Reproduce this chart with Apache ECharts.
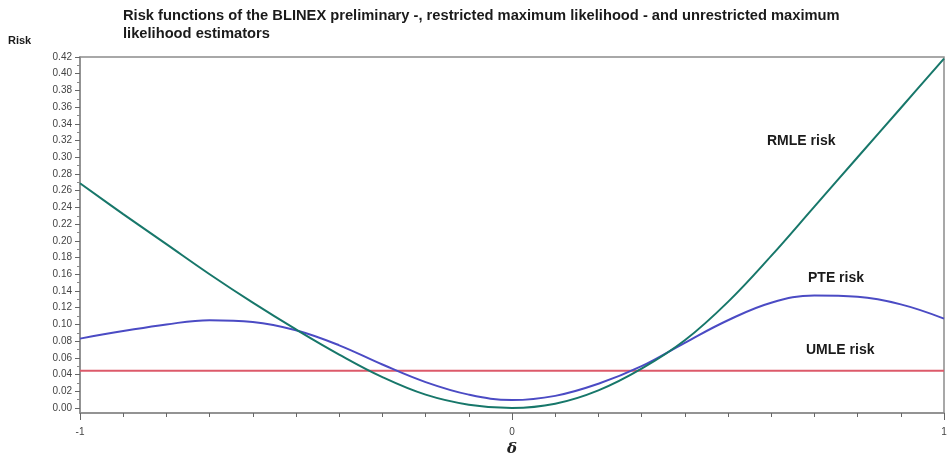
<!DOCTYPE html>
<html>
<head>
<meta charset="utf-8">
<script src="https://cdn.jsdelivr.net/npm/echarts@6/dist/echarts.min.js"></script>
<style>
  html, body { margin: 0; padding: 0; background: #fff; }
  #main { width: 948px; height: 455px; }
</style>
</head>
<body>
<div id="main"></div>
<script>
// 数据：delta 取值与三条风险曲线
var deltas = [-1, -0.9, -0.8, -0.7, -0.6, -0.5, -0.4, -0.3, -0.2, -0.1, 0,
  0.1, 0.2, 0.3, 0.4, 0.5, 0.6, 0.7, 0.8, 0.9, 1];
var rmleRisk = [0.269, 0.232, 0.196, 0.160, 0.126, 0.094, 0.064, 0.037, 0.016, 0.004, 0.0,
  0.005, 0.021, 0.047, 0.081, 0.127, 0.182, 0.241, 0.300, 0.359, 0.418];
var pteRisk = [0.083, 0.092, 0.100, 0.105, 0.103, 0.093, 0.075, 0.052, 0.031, 0.016, 0.0095,
  0.0145, 0.029, 0.050, 0.078, 0.105, 0.126, 0.1345, 0.133, 0.124, 0.107];
var umleRisk = 0.0445;
var yTicks = [0, 0.02, 0.04, 0.06, 0.08, 0.10, 0.12, 0.14, 0.16, 0.18, 0.20,
  0.22, 0.24, 0.26, 0.28, 0.30, 0.32, 0.34, 0.36, 0.38, 0.40, 0.42];
var xLabels = [-1, 0, 1];

function pairs(xs, ys) {
  var out = [];
  for (var i = 0; i < xs.length; i++) out.push([xs[i], ys[i]]);
  return out;
}

var yMinor = [];
for (var i = 0; i < yTicks.length - 1; i++) {
  yMinor.push(+((yTicks[i] + yTicks[i + 1]) / 2).toFixed(3));
}

var labelFont = 'Liberation Sans, Arial, sans-serif';

var myChart = echarts.init(document.getElementById('main'));

var option = {
  backgroundColor: '#fff',
  animation: false,
  title: [{
    text: 'Risk functions of the BLINEX preliminary -, restricted maximum likelihood - and unrestricted maximum\nlikelihood estimators',
    left: 118,
    top: 2,
    textStyle: {
      fontFamily: labelFont,
      fontWeight: 'bold',
      fontSize: 14.7,
      lineHeight: 18,
      color: '#1a1a1a'
    }
  }, {
    text: 'Risk',
    left: 3,
    top: 30,
    textStyle: {
      fontFamily: labelFont,
      fontWeight: 'bold',
      fontSize: 11,
      color: '#1a1a1a'
    }
  }],
  grid: {
    left: 80,
    right: 4,
    top: 57,
    bottom: 42,
    containLabel: false,
    outerBoundsMode: 'none',
    show: true,
    borderColor: '#8c8c8c',
    borderWidth: 1.5
  },
  xAxis: [{
    type: 'value',
    min: -1,
    max: 1,
    interval: 0.1,
    name: 'δ',
    nameLocation: 'middle',
    nameGap: 21,
    nameTextStyle: {
      fontFamily: 'DejaVu Serif, serif',
      fontStyle: 'italic',
      fontWeight: 'bold',
      fontSize: 15,
      color: '#222'
    },
    axisLine: { onZero: false, lineStyle: { color: '#8c8c8c', width: 1.5 } },
    axisTick: { length: 4, lineStyle: { color: '#666' } },
    axisLabel: {
      customValues: xLabels,
      margin: 14,
      fontFamily: labelFont,
      fontSize: 10,
      color: '#444',
      formatter: function (v) { return String(v); }
    },
    splitLine: { show: false }
  }, {
    type: 'value',
    min: -1,
    max: 1,
    position: 'bottom',
    axisLine: { show: false, onZero: false },
    axisTick: { customValues: xLabels, length: 7, lineStyle: { color: '#666' } },
    axisLabel: { show: false },
    splitLine: { show: false }
  }],
  yAxis: [{
    type: 'value',
    min: -0.006,
    max: 0.42,
    position: 'left',
    axisLine: { show: true, onZero: false, lineStyle: { color: '#8c8c8c', width: 1.5 } },
    axisTick: { show: true, customValues: yTicks, length: 5, lineStyle: { color: '#666' } },
    axisLabel: {
      customValues: yTicks,
      margin: 8,
      fontFamily: labelFont,
      fontSize: 10,
      color: '#444',
      formatter: function (v) { return v.toFixed(2); }
    },
    splitLine: { show: false }
  }, {
    type: 'value',
    min: -0.006,
    max: 0.42,
    position: 'left',
    axisLine: { show: false, onZero: false },
    axisTick: { show: true, customValues: yMinor, length: 3, lineStyle: { color: '#888' } },
    axisLabel: { show: false },
    splitLine: { show: false }
  }],
  graphic: [
    { type: 'text', left: 767, top: 134, style: { text: 'RMLE risk', fontFamily: labelFont, fontWeight: 'bold', fontSize: 14, fill: '#1a1a1a' } },
    { type: 'text', left: 808, top: 271, style: { text: 'PTE risk', fontFamily: labelFont, fontWeight: 'bold', fontSize: 14, fill: '#1a1a1a' } },
    { type: 'text', left: 806, top: 343, style: { text: 'UMLE risk', fontFamily: labelFont, fontWeight: 'bold', fontSize: 14, fill: '#1a1a1a' } }
  ],
  series: [{
    name: 'UMLE risk',
    type: 'line',
    showSymbol: false,
    data: [[-1, umleRisk], [1, umleRisk]],
    lineStyle: { color: '#dc5a6a', width: 2 },
    z: 2
  }, {
    name: 'PTE risk',
    type: 'line',
    showSymbol: false,
    smooth: 0.4,
    data: pairs(deltas, pteRisk),
    lineStyle: { color: '#4b4bc4', width: 2 },
    z: 3
  }, {
    name: 'RMLE risk',
    type: 'line',
    showSymbol: false,
    smooth: 0.4,
    data: pairs(deltas, rmleRisk),
    lineStyle: { color: '#17776a', width: 2 },
    z: 4
  }]
};

myChart.setOption(option);
</script>
</body>
</html>
